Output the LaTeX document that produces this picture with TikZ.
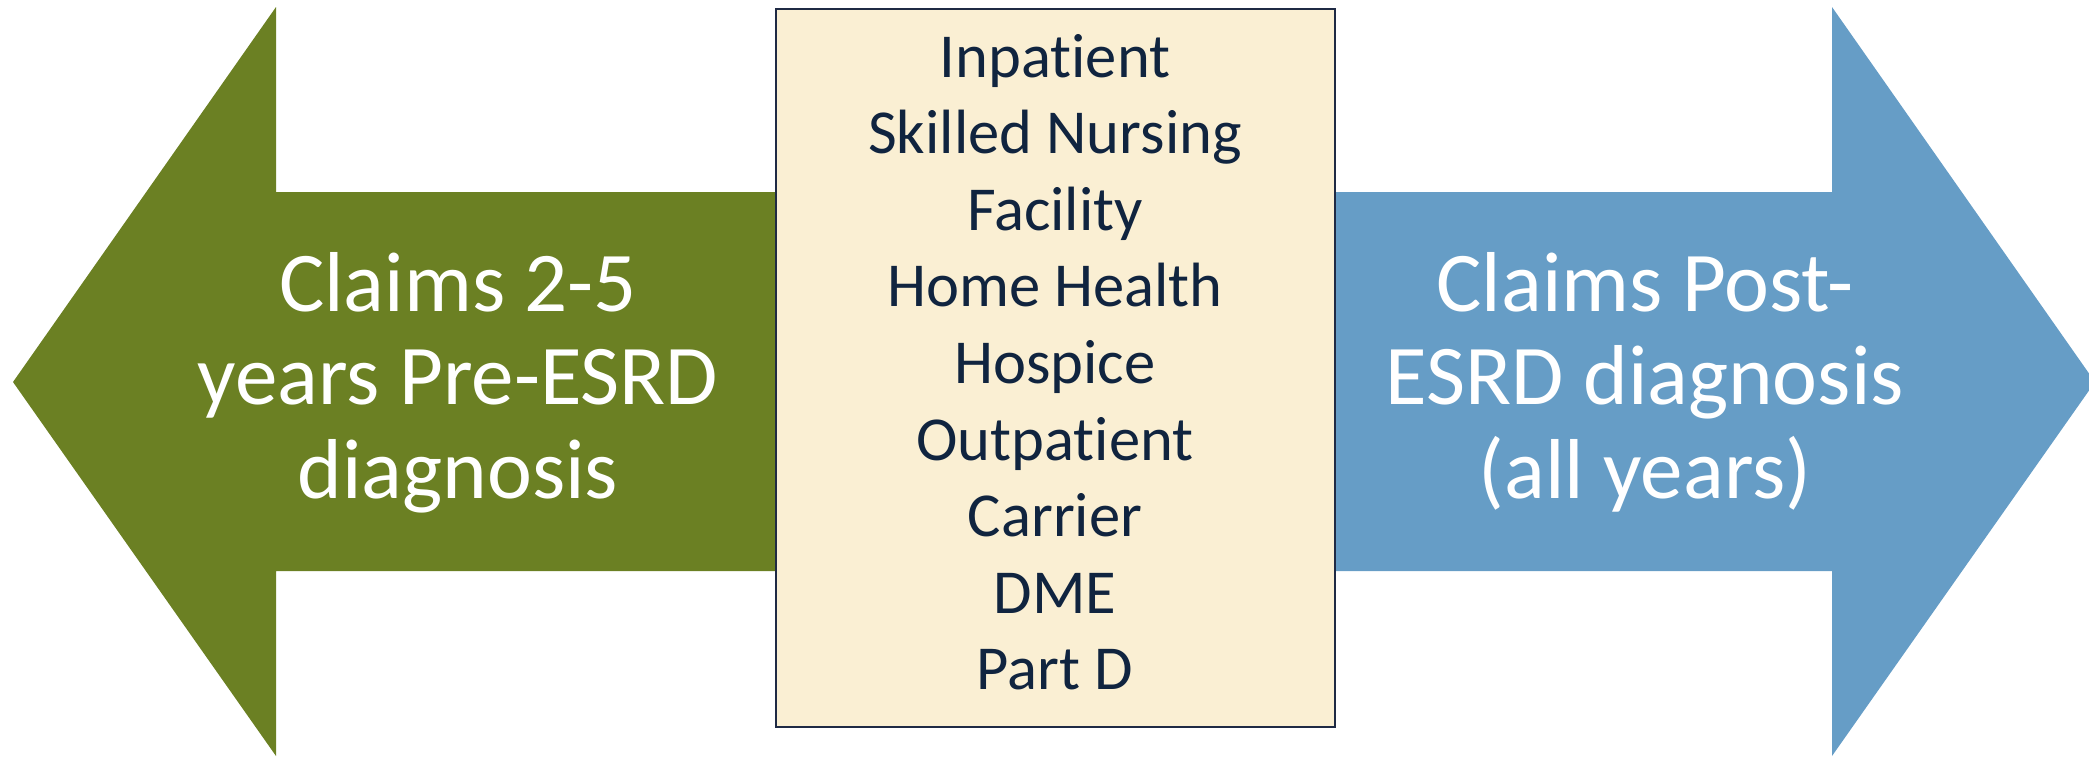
\documentclass[tikz,border=0pt]{standalone}
\usepackage{fontspec}
\setmainfont{Carlito}[Ligatures=NoCommon]

\definecolor{pregreen}{HTML}{6B8023}
\definecolor{postblue}{HTML}{669DC6}
\definecolor{boxfill}{HTML}{FAEFD3}
\definecolor{boxline}{HTML}{1F2A44}
\definecolor{boxtext}{HTML}{10243F}

\tikzset{
	claimtext/.style={text=white, inner sep=0, anchor=base, font=\fontsize{24.2}{26.6}\selectfont},
	filetext/.style={text=boxtext, inner sep=0, anchor=base, font=\fontsize{17.8}{21.8}\selectfont},
}

\begin{document}
\begin{tikzpicture}
	\clip (0,0) rectangle (20.89,-7.58);
	
	\fill[pregreen] (0.13,-3.82) -- (2.76,-0.07) -- (2.76,-1.92) -- (7.8,-1.92) -- (7.8,-5.71) -- (2.76,-5.71) -- (2.76,-7.56) -- cycle;
	\fill[postblue] (20.95,-3.82) -- (18.32,-0.07) -- (18.32,-1.92) -- (13.3,-1.92) -- (13.3,-5.71) -- (18.32,-5.71) -- (18.32,-7.56) -- cycle;
	
	\node[draw=boxline, fill=boxfill, line width=0.8pt, inner sep=0, minimum width=5.59cm, minimum height=7.18cm] (filebox) at (10.555,-3.68) {};
	
	\foreach \line [count=\i] in {Claims 2-5, years Pre-ESRD, diagnosis}
	{
	\node[claimtext] (pre\i) at (4.58,{-3.11-0.935*(\i-1)}) {\line};
	}
	
	\foreach \line [count=\i] in {Claims Post-, ESRD diagnosis, (all years)}
	{
	\node[claimtext] (post\i) at (16.45,{-3.11-0.935*(\i-1)}) {\line};
	}
	
	\foreach \line [count=\i] in {Inpatient, Skilled Nursing, Facility, Home Health, Hospice, Outpatient, Carrier, DME, Part D}
	{
	\node[filetext] (file\i) at (10.55,{-0.77-0.766*(\i-1)}) {\line};
	}
\end{tikzpicture}
\end{document}
